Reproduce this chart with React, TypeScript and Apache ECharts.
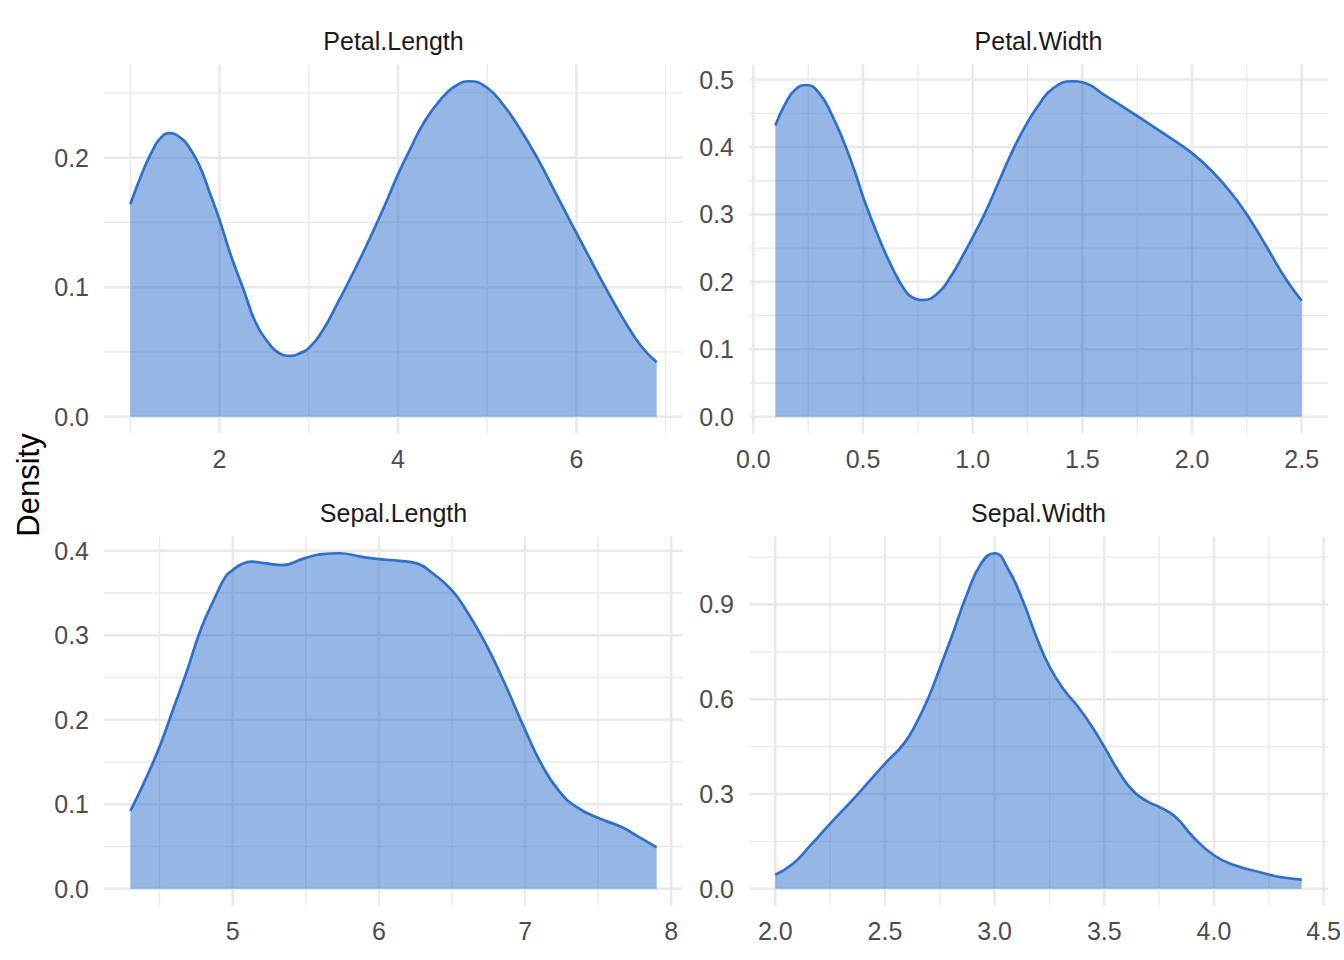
import React, { useEffect, useRef } from "react";
import * as echarts from "echarts";

const petalLengthX = [1.0, 1.15, 1.26, 1.35, 1.45, 1.55, 1.65, 1.78, 1.89, 2.0, 2.12, 2.27, 2.41, 2.56, 2.67, 2.8, 2.9, 3.0, 3.16, 3.34, 3.49, 3.68, 3.87, 4.0, 4.14, 4.29, 4.48, 4.66, 4.8, 5.0, 5.19, 5.37, 5.56, 5.75, 5.93, 6.0, 6.16, 6.34, 6.53, 6.72, 6.9];
const petalLengthD = [0.164, 0.191, 0.207, 0.216, 0.219, 0.216, 0.209, 0.193, 0.173, 0.152, 0.126, 0.098, 0.072, 0.056, 0.049, 0.047, 0.049, 0.053, 0.067, 0.09, 0.11, 0.137, 0.166, 0.187, 0.207, 0.227, 0.245, 0.256, 0.259, 0.254, 0.24, 0.222, 0.2, 0.175, 0.151, 0.142, 0.121, 0.098, 0.075, 0.055, 0.042];

const petalWidthX = [0.1, 0.147, 0.19, 0.24, 0.3, 0.36, 0.42, 0.465, 0.51, 0.57, 0.63, 0.69, 0.73, 0.77, 0.84, 0.9, 0.965, 1.0, 1.056, 1.117, 1.177, 1.24, 1.3, 1.366, 1.457, 1.5, 1.61, 1.75, 1.88, 2.0, 2.1, 2.19, 2.25, 2.34, 2.43, 2.5];
const petalWidthD = [0.432, 0.465, 0.485, 0.492, 0.48, 0.446, 0.401, 0.361, 0.317, 0.267, 0.223, 0.188, 0.176, 0.173, 0.183, 0.208, 0.245, 0.266, 0.302, 0.347, 0.391, 0.431, 0.462, 0.487, 0.4975, 0.496, 0.475, 0.446, 0.418, 0.391, 0.361, 0.327, 0.3, 0.252, 0.203, 0.172];

const sepalLengthX = [4.3, 4.4, 4.5, 4.59, 4.69, 4.78, 4.88, 4.95, 5.0, 5.06, 5.13, 5.23, 5.34, 5.49, 5.61, 5.73, 5.875, 6.0, 6.14, 6.26, 6.37, 6.5, 6.61, 6.73, 6.85, 7.0, 7.11, 7.23, 7.35, 7.51, 7.66, 7.78, 7.9];
const sepalLengthD = [0.092, 0.128, 0.168, 0.211, 0.259, 0.306, 0.345, 0.369, 0.377, 0.384, 0.387, 0.385, 0.383, 0.391, 0.396, 0.397, 0.393, 0.39, 0.388, 0.385, 0.373, 0.353, 0.326, 0.29, 0.247, 0.188, 0.148, 0.116, 0.097, 0.083, 0.073, 0.061, 0.049];

const sepalWidthX = [2.0, 2.08, 2.16, 2.25, 2.365, 2.5, 2.587, 2.65, 2.7, 2.75, 2.81, 2.87, 2.94, 3.0, 3.063, 3.127, 3.19, 3.25, 3.317, 3.38, 3.444, 3.5, 3.571, 3.635, 3.7, 3.75, 3.825, 3.905, 4.0, 4.095, 4.206, 4.3, 4.4];
const sepalWidthD = [0.044, 0.079, 0.137, 0.206, 0.291, 0.396, 0.46, 0.534, 0.608, 0.698, 0.809, 0.925, 1.031, 1.062, 1.01, 0.914, 0.798, 0.703, 0.629, 0.576, 0.513, 0.449, 0.365, 0.307, 0.275, 0.259, 0.227, 0.164, 0.106, 0.074, 0.053, 0.037, 0.029];

// ---- Tick values ----
const petalLengthXMajor = [2, 4, 6];
const petalLengthXMinor = [1, 3, 5, 7];
const petalLengthYMajor = [0, 0.1, 0.2];
const petalLengthYMinor = [0.05, 0.15, 0.25];

const petalWidthXMajor = [0, 0.5, 1.0, 1.5, 2.0, 2.5];
const petalWidthXMinor = [0.25, 0.75, 1.25, 1.75, 2.25];
const petalWidthYMajor = [0, 0.1, 0.2, 0.3, 0.4, 0.5];
const petalWidthYMinor = [0.05, 0.15, 0.25, 0.35, 0.45];

const sepalLengthXMajor = [5, 6, 7, 8];
const sepalLengthXMinor = [4.5, 5.5, 6.5, 7.5];
const sepalLengthYMajor = [0, 0.1, 0.2, 0.3, 0.4];
const sepalLengthYMinor = [0.05, 0.15, 0.25, 0.35];

const sepalWidthXMajor = [2.0, 2.5, 3.0, 3.5, 4.0, 4.5];
const sepalWidthXMinor = [2.25, 2.75, 3.25, 3.75, 4.25];
const sepalWidthYMajor = [0, 0.3, 0.6, 0.9];
const sepalWidthYMinor = [0.15, 0.45, 0.75, 1.05];

const panelNames = ["Petal.Length", "Petal.Width", "Sepal.Length", "Sepal.Width"];
const yTitle = "Density";

const FONT = '"Liberation Sans", Arial, Helvetica, sans-serif';
const LINE_COLOR = "#2E6FCC";
const GRID_COLOR = "#E9E9E9";

export default function App() {
  const ref = useRef<HTMLDivElement>(null);

  useEffect(() => {
    if (!ref.current) return;
    const chart = echarts.init(ref.current, null, { renderer: "svg" });

    const panels = [
      { name: panelNames[0], x: petalLengthX, d: petalLengthD, xMajor: petalLengthXMajor, xMinor: petalLengthXMinor, yMajor: petalLengthYMajor, yMinor: petalLengthYMinor, xDec: 0 },
      { name: panelNames[1], x: petalWidthX, d: petalWidthD, xMajor: petalWidthXMajor, xMinor: petalWidthXMinor, yMajor: petalWidthYMajor, yMinor: petalWidthYMinor, xDec: 1 },
      { name: panelNames[2], x: sepalLengthX, d: sepalLengthD, xMajor: sepalLengthXMajor, xMinor: sepalLengthXMinor, yMajor: sepalLengthYMajor, yMinor: sepalLengthYMinor, xDec: 0 },
      { name: panelNames[3], x: sepalWidthX, d: sepalWidthD, xMajor: sepalWidthXMajor, xMinor: sepalWidthXMinor, yMajor: sepalWidthYMajor, yMinor: sepalWidthYMinor, xDec: 1 },
    ];

    const lefts = [104, 749];
    const tops = [64.5, 536.5];
    const W = 579;
    const H = 369;

    const grid: any[] = [];
    const xAxis: any[] = [];
    const yAxis: any[] = [];
    const series: any[] = [];
    const graphic: any[] = [];

    panels.forEach((p, i) => {
      const col = i % 2;
      const row = Math.floor(i / 2);
      const xmin0 = p.x[0];
      const xmax0 = p.x[p.x.length - 1];
      const xr = xmax0 - xmin0;
      const ymax0 = Math.max(...p.d);
      const xmin = xmin0 - 0.05 * xr;
      const xmax = xmax0 + 0.05 * xr;
      const ymin = -0.05 * ymax0;
      const ymax = ymax0 * 1.05;

      grid.push({
        left: lefts[col],
        top: tops[row],
        width: W,
        height: H,
        containLabel: false,
        outerBoundsMode: "none",
      });

      xAxis.push({
        type: "value",
        gridIndex: i,
        min: xmin,
        max: xmax,
        axisLine: { show: false, onZero: false },
        axisTick: { show: false },
        splitLine: { show: false },
        axisLabel: {
          customValues: p.xMajor,
          formatter: (v: number) => Number(v).toFixed(p.xDec),
          color: "#4D4D4D",
          fontSize: 25,
          fontFamily: FONT,
          margin: 13,
        },
      });

      yAxis.push({
        type: "value",
        gridIndex: i,
        min: ymin,
        max: ymax,
        axisLine: { show: false, onZero: false },
        axisTick: { show: false },
        splitLine: { show: false },
        axisLabel: {
          customValues: p.yMajor,
          formatter: (v: number) => Number(v).toFixed(1),
          color: "#4D4D4D",
          fontSize: 25,
          fontFamily: FONT,
          margin: 15,
        },
      });

      const gridLines = (xs: number[], ys: number[]) => {
        const out: any[] = [];
        xs.forEach((v) => {
          out.push([v, ymin], [v, ymax], ["-", "-"]);
        });
        ys.forEach((v) => {
          out.push([xmin, v], [xmax, v], ["-", "-"]);
        });
        return out;
      };

      series.push({
        type: "line",
        xAxisIndex: i,
        yAxisIndex: i,
        data: gridLines(p.xMinor, p.yMinor),
        symbol: "none",
        silent: true,
        z: 1,
        connectNulls: false,
        lineStyle: { color: GRID_COLOR, width: 1.3 },
        clip: false,
      });
      series.push({
        type: "line",
        xAxisIndex: i,
        yAxisIndex: i,
        data: gridLines(p.xMajor, p.yMajor),
        symbol: "none",
        silent: true,
        z: 1,
        connectNulls: false,
        lineStyle: { color: GRID_COLOR, width: 2.5 },
        clip: false,
      });

      series.push({
        type: "line",
        name: p.name,
        xAxisIndex: i,
        yAxisIndex: i,
        data: p.x.map((xv, k) => [xv, p.d[k]]),
        symbol: "none",
        smooth: 0.5,
        z: 3,
        lineStyle: { color: LINE_COLOR, width: 2.7 },
        areaStyle: { color: LINE_COLOR, opacity: 0.5, origin: "auto" },
      });

      graphic.push({
        type: "text",
        x: lefts[col] + W / 2,
        y: tops[row] - 23.5,
        style: {
          text: p.name,
          fill: "#1A1A1A",
          font: `25px ${FONT}`,
          align: "center",
          verticalAlign: "middle",
        },
      });
    });

    graphic.push({
      type: "text",
      x: 28,
      y: 485,
      rotation: Math.PI / 2,
      style: {
        text: yTitle,
        fill: "#000000",
        font: `31px ${FONT}`,
        align: "center",
        verticalAlign: "middle",
      },
    });

    chart.setOption({
      animation: false,
      backgroundColor: "#FFFFFF",
      grid,
      xAxis,
      yAxis,
      series,
      graphic,
    });

    return () => {
      chart.dispose();
    };
  }, []);

  return (
    <div
      ref={ref}
      style={{ position: "fixed", left: 0, top: 0, width: 1344, height: 960 }}
    />
  );
}
